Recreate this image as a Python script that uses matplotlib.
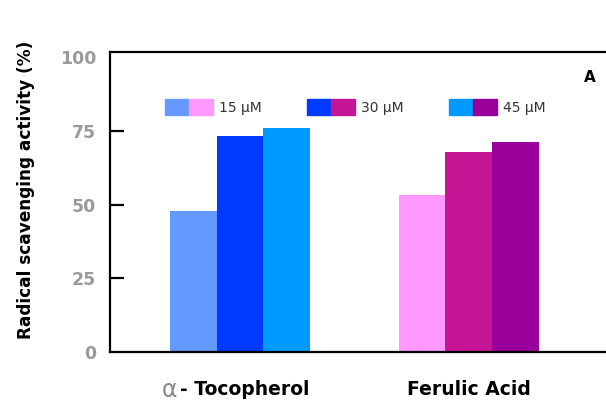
import matplotlib
matplotlib.use("Agg")
import matplotlib.pyplot as plt
from matplotlib.patches import Patch
from matplotlib.legend_handler import HandlerTuple

# data
groups = ["α-Tocopherol", "Ferulic Acid"]
doses = ["15 μM", "30 μM", "45 μM"]
toco_vals = [47.8, 73.2, 75.9]
ferulic_vals = [53.2, 67.8, 71.2]
toco_colors = ["#6699FF", "#0039FF", "#0099FF"]
ferulic_colors = ["#FF99FF", "#C41595", "#990099"]

plt.rcParams['font.family'] = ['DejaVu Sans']

fig = plt.figure(figsize=(6.06, 4.01), dpi=100)
ax = fig.add_axes([110 / 606, 1 - 352 / 401, 510 / 606, 300 / 401])

w = 0.205
offsets = [-w, 0, w]
for i in range(3):
    ax.bar(0 + offsets[i], toco_vals[i], width=w, color=toco_colors[i], zorder=1)
    ax.bar(1 + offsets[i], ferulic_vals[i], width=w, color=ferulic_colors[i], zorder=1)

ax.set_xlim(-0.568, 1.66)
ax.set_ylim(0, 101.7)

for s in ["left", "bottom", "top"]:
    ax.spines[s].set_linewidth(1.6)
    ax.spines[s].set_zorder(3)
ax.spines["right"].set_visible(False)

ax.set_xticks([])
ax.set_yticks([25, 50, 75])
ax.set_yticklabels(["25", "50", "75"])
ax.set_yticks([0, 100], minor=True)
ax.set_yticklabels(["0", "100"], minor=True)
ax.tick_params(axis="y", which="major", direction="in", length=10, width=1.6,
               pad=10, labelsize=12.5, labelcolor="#9a9a9a")
ax.tick_params(axis="y", which="minor", length=0, pad=10, labelsize=12.5, labelcolor="#9a9a9a")
for lab in ax.get_yticklabels() + ax.get_yticklabels(minor=True):
    lab.set_fontweight("bold")

ax.set_ylabel("Radical scavenging activity (%)", fontsize=12.2, fontweight="bold")
ax.yaxis.set_label_coords(-0.147, 0.54)

# group labels
ax.text(-0.275, -13, "α", color="#8a8a8a", fontsize=17, ha="right", va="center", clip_on=False)
ax.text(-0.262, -12.7, "- Tocopherol", color="black", fontsize=13.5, fontweight="bold",
        ha="left", va="center", clip_on=False)
ax.text(1, -12.7, "Ferulic Acid", color="black", fontsize=13.5, fontweight="bold",
        ha="center", va="center", clip_on=False)

ax.text(590 / 606, 1 - 77 / 401, "A", transform=fig.transFigure, fontsize=11,
        fontweight="bold", ha="center", va="center")

handles = [(Patch(color=toco_colors[i]), Patch(color=ferulic_colors[i])) for i in range(3)]
ax.legend(handles, doses, handler_map={tuple: HandlerTuple(ndivide=None, pad=0)},
          ncol=3, frameon=False, fontsize=10, handlelength=3.45, handleheight=1.4,
          handletextpad=0.45, columnspacing=3.25, loc="center",
          bbox_to_anchor=(355 / 606, 1 - 107 / 401), bbox_transform=fig.transFigure,
          labelcolor="#333333")

fig.savefig("out.png", dpi=100)
